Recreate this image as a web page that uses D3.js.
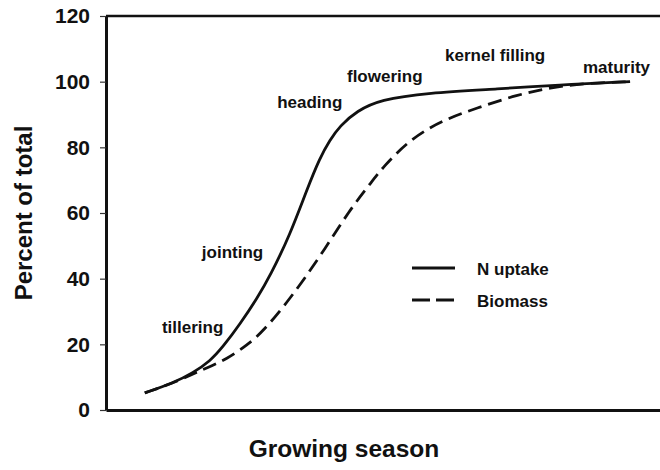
<!DOCTYPE html>
<html>
<head>
<meta charset="utf-8">
<script src="https://cdn.jsdelivr.net/npm/d3@7"></script>
<style>
  body { margin: 0; background: #fff; }
  text { font-family: "Liberation Sans", Arial, sans-serif; font-weight: bold; fill: #111; }
</style>
</head>
<body>
<div id="chart"></div>
<script>
// values (season position 0-100, percent of total)
var nSeason  = [7.0, 12.1, 15.7, 18.8, 21.1, 24.2, 27.3, 29.6, 33.2, 36.3, 38.6, 40.4, 42.2, 45.3, 49.5, 57.9, 71.1, 81.4, 94.6];
var nUptake  = [5.2, 8.2, 11.3, 14.9, 19.2, 26.2, 34.1, 40.8, 53.3, 67.3, 76.8, 82.2, 86.5, 91.1, 94.5, 96.6, 97.8, 99, 100];

var bioSeason = [7.0, 12.1, 15.7, 18.2, 21.8, 25.5, 28.3, 33.2, 38.6, 44, 47.7, 50, 54.9, 60.8, 67, 74.2, 80.7, 87.4, 94.6];
var biomass   = [5.2, 8.2, 11.0, 12.8, 15.5, 19.8, 23.8, 33.8, 46.6, 61, 68.9, 74, 82.5, 88.3, 92, 96, 98.4, 99.6, 100];

var yTicks = [0, 20, 40, 60, 80, 100, 120];

var stageNames  = ["tillering", "jointing", "heading", "flowering", "kernel filling", "maturity"];
var stageSeason = [10.1, 17.3, 30.9, 43.5, 61.2, 86.1];
var stagePct    = [23.5, 46.3, 92, 99.9, 106.3, 102.6];

var legendNames = ["N uptake", "Biomass"];

// set the dimensions and margins of the graph
var margin = {top: 16, right: 0, bottom: 60, left: 106},
    width = 660 - margin.left - margin.right,
    height = 470 - margin.top - margin.bottom;

var svg = d3.select("#chart").append("svg")
    .attr("width", 660)
    .attr("height", 470);

var g = svg.append("g")
    .attr("transform", "translate(" + margin.left + "," + margin.top + ")");

var x = d3.scaleLinear().domain([0, 100]).range([0, width]);
var y = d3.scaleLinear().domain([0, 120]).range([height, 0]);

// top border
g.append("line")
    .attr("x1", 0).attr("x2", width)
    .attr("y1", y(120)).attr("y2", y(120))
    .attr("stroke", "#111").attr("stroke-width", 2.5);

// y axis
var yAxis = g.append("g")
    .call(d3.axisLeft(y).tickValues(yTicks).tickSize(6).tickPadding(10).tickSizeOuter(0));
yAxis.select(".domain").attr("stroke", "#111").attr("stroke-width", 3);
yAxis.selectAll(".tick line").attr("stroke", "#333").attr("stroke-width", 1.2);
yAxis.selectAll(".tick text")
    .style("font-size", "21px")
    .style("font-family", "'Liberation Sans', Arial, sans-serif")
    .style("font-weight", "bold")
    .attr("fill", "#111");

// x axis (no ticks)
var xAxis = g.append("g")
    .attr("transform", "translate(0," + height + ")")
    .call(d3.axisBottom(x).tickValues([]).tickSizeOuter(0));
xAxis.select(".domain").attr("stroke", "#111").attr("stroke-width", 3);

// axis titles
svg.append("text")
    .attr("transform", "translate(32," + (margin.top + y(60)) + ") rotate(-90)")
    .attr("text-anchor", "middle")
    .style("font-size", "24px")
    .text("Percent of total");

svg.append("text")
    .attr("x", 344)
    .attr("y", 457)
    .attr("text-anchor", "middle")
    .style("font-size", "24.5px")
    .text("Growing season");

// curves
var line = d3.line()
    .x(function(d) { return x(d[0]); })
    .y(function(d) { return y(d[1]); })
    .curve(d3.curveBasis);

g.append("path")
    .datum(bioSeason.map(function(s, i) { return [s, biomass[i]]; }))
    .attr("d", line)
    .attr("fill", "none")
    .attr("stroke", "#111")
    .attr("stroke-width", 2.8)
    .attr("stroke-dasharray", "14,7");

g.append("path")
    .datum(nSeason.map(function(s, i) { return [s, nUptake[i]]; }))
    .attr("d", line)
    .attr("fill", "none")
    .attr("stroke", "#111")
    .attr("stroke-width", 2.8);

// growth stage labels
g.selectAll(".stage")
  .data(stageNames)
  .enter()
  .append("text")
  .attr("class", "stage")
  .attr("x", function(d, i) { return x(stageSeason[i]); })
  .attr("y", function(d, i) { return y(stagePct[i]); })
  .style("font-size", "17px")
  .attr("fill", "#222")
  .text(function(d) { return d; });

// legend
var legend = svg.selectAll(".legend")
  .data(legendNames)
  .enter()
  .append("g")
  .attr("class", "legend")
  .attr("transform", function(d, i) { return "translate(412," + (268 + i * 32) + ")"; });

legend.append("line")
    .attr("x1", 0).attr("x2", 43)
    .attr("y1", 0).attr("y2", 0)
    .attr("stroke", "#111")
    .attr("stroke-width", 2.8)
    .attr("stroke-dasharray", function(d, i) { return i ? "18,6" : null; });

legend.append("text")
    .attr("x", 65)
    .attr("y", 7)
    .style("font-size", "17px")
    .attr("fill", "#222")
    .text(function(d) { return d; });
</script>
</body>
</html>
